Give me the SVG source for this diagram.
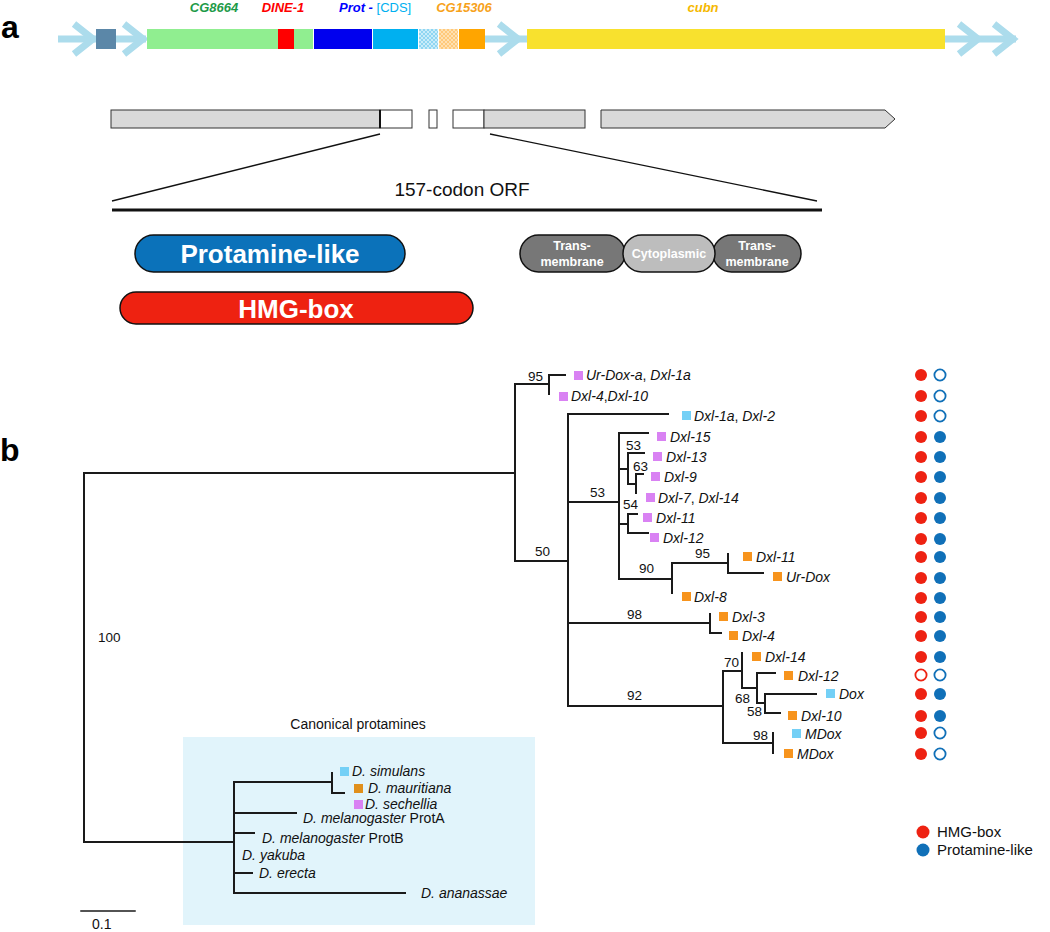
<svg xmlns="http://www.w3.org/2000/svg" width="1050" height="932" viewBox="0 0 1050 932">
<style>
.panel{font-family:"Liberation Sans",Arial,sans-serif;font-weight:bold;font-size:32px;fill:#000}
.glab{font-family:"Liberation Sans",Arial,sans-serif;font-weight:bold;font-style:italic;font-size:13px}
.bb{stroke:#acdcec;stroke-width:7;fill:none}
.chev{stroke:#acdcec;stroke-width:7;fill:none;stroke-linejoin:miter}
.gbox{fill:#d9d9d9;stroke:#333;stroke-width:1}
.wbox{fill:#fff;stroke:#333;stroke-width:1}
.pill{stroke:#111;stroke-width:1.5}
.pt{font-family:"Liberation Sans",Arial,sans-serif;font-weight:bold;fill:#fff;text-anchor:middle}
.tree{stroke:#1a1a1a;stroke-width:2;fill:none;stroke-linecap:square}
.leaf{font-family:"Liberation Sans",Arial,sans-serif;font-style:italic;font-size:14px;fill:#111}
.sup{font-family:"Liberation Sans",Arial,sans-serif;font-size:13.5px;fill:#111}
.up{font-style:normal}
.pu{fill:#d982f3}.cy{fill:#74d0f6}.or{fill:#f7941d}.or2{fill:#e0901c}
.rf{fill:#ee2212}.bf{fill:#1070b8}
.ro{fill:#fff;stroke:#ee2212;stroke-width:1.8}.bo{fill:#fff;stroke:#1070b8;stroke-width:1.8}
.lg{font-family:"Liberation Sans",Arial,sans-serif;font-size:15px;fill:#111}
</style>
<defs>
<pattern id="hb" width="4" height="4" patternUnits="userSpaceOnUse">
<rect width="4" height="4" fill="#8fd6f2"/><path d="M0,0L4,4M4,0L0,4" stroke="#d8f1fb" stroke-width="0.8"/>
</pattern>
<pattern id="ho" width="4" height="4" patternUnits="userSpaceOnUse">
<rect width="4" height="4" fill="#ffc97a"/><path d="M0,0L4,4M4,0L0,4" stroke="#ffe6bf" stroke-width="0.8"/>
</pattern>
</defs>
<rect width="1050" height="932" fill="#fff"/>

<!-- Panel a -->
<text class="panel" x="1" y="38">a</text>
<g id="locus">
<path class="bb" d="M58,39H96M116,39H146M484,39H527M945,39H1016"/>
<polyline class="chev" points="74,24 93,39 74,54"/>
<polyline class="chev" points="124,24 143,39 124,54"/>
<polyline class="chev" points="499,24 518,39 499,54"/>
<polyline class="chev" points="959,24 978,39 959,54"/>
<polyline class="chev" points="994,24 1013,39 994,54"/>
<rect x="96" y="29" width="20" height="20" fill="#5b87a8"/>
<rect x="147" y="29" width="131" height="20" fill="#90ee90"/>
<rect x="278" y="29" width="16" height="20" fill="#ff0000"/>
<rect x="294" y="29" width="19" height="20" fill="#90ee90"/>
<rect x="314" y="29" width="58" height="20" fill="#0000ee"/>
<rect x="373" y="29" width="45" height="20" fill="#00b0f0"/>
<rect x="419" y="29" width="19" height="20" fill="url(#hb)"/>
<rect x="439" y="29" width="19" height="20" fill="url(#ho)"/>
<rect x="459" y="29" width="26" height="20" fill="#ffa500"/>
<rect x="527" y="29" width="418" height="20" fill="#f8e12e"/>
<text class="glab" x="214" y="12" text-anchor="middle" fill="#1e9a48">CG8664</text>
<text class="glab" x="283" y="12" text-anchor="middle" fill="#ff0000">DINE-1</text>
<text class="glab" x="339" y="12" fill="#0000ff">Prot -<tspan font-style="normal" font-weight="normal" fill="#00b0f0"> [CDS]</tspan></text>
<text class="glab" x="464" y="12" text-anchor="middle" fill="#f7a21b">CG15306</text>
<text class="glab" x="703" y="12" text-anchor="middle" fill="#f5b800">cubn</text>
</g>

<g id="gene-model">
<rect class="gbox" x="111" y="110" width="269" height="18"/>
<rect class="wbox" x="380" y="110" width="32" height="18"/>
<line x1="380" y1="110" x2="380" y2="128" stroke="#111" stroke-width="2"/>
<rect class="wbox" x="429" y="110" width="8" height="18"/>
<rect class="wbox" x="453" y="110" width="31" height="18"/>
<rect class="gbox" x="484" y="110" width="101" height="18"/>
<path class="gbox" d="M601,110H885L895,119L885,128H601Z"/>
<path d="M380,134L112,201M490,134L817,201" stroke="#111" stroke-width="1.3" fill="none"/>
<line x1="112" y1="210" x2="822" y2="210" stroke="#111" stroke-width="3"/>
<text x="462" y="196" text-anchor="middle" font-family="Liberation Sans, Arial, sans-serif" font-size="19" fill="#111">157-codon ORF</text>
</g>

<g id="protamine-like">
<rect class="pill" x="135" y="235" width="270" height="37" rx="18.5" fill="#0b72ba"/>
<text class="pt" x="270" y="263" font-size="26">Protamine-like</text>
</g>
<g id="hmg-box">
<rect class="pill" x="120" y="292" width="353" height="32" rx="16" fill="#ee2211"/>
<text class="pt" x="296" y="318" font-size="26">HMG-box</text>
</g>
<g id="tm1">
<rect class="pill" x="520" y="235" width="105" height="37" rx="18.5" fill="#777"/>
<text class="pt" x="572" y="250" font-size="12.5">Trans-</text>
<text class="pt" x="572" y="266" font-size="12.5">membrane</text>
</g>
<g id="tm2">
<rect class="pill" x="713" y="235" width="88" height="37" rx="18.5" fill="#777"/>
<text class="pt" x="757" y="250" font-size="12.5">Trans-</text>
<text class="pt" x="757" y="266" font-size="12.5">membrane</text>
</g>
<g id="cyto">
<rect class="pill" x="623" y="235" width="92" height="37" rx="18.5" fill="#bdbdbd"/>
<text class="pt" x="669" y="258" font-size="12.5">Cytoplasmic</text>
</g>

<!-- Panel b -->
<text class="panel" x="0" y="461">b</text>
<rect x="183" y="737" width="352" height="188" fill="#e1f4fb"/>
<text x="358" y="729" text-anchor="middle" font-family="Liberation Sans, Arial, sans-serif" font-size="14" fill="#111">Canonical protamines</text>

<g id="connectors" class="tree">
<path d="M84,473H515M84,473V842H234"/>
<path d="M515,384V561M515,384H549M549,375V394M549,375H565"/>
<path d="M515,561H568M568,414V706M568,414H668"/>
<path d="M568,502H619M619,433V579M619,433H648"/>
<path d="M619,469H628M628,453V484M628,453H644M628,484H636M636,474V493M636,474H643"/>
<path d="M619,524H628M628,514V533M628,514H637M628,533H648"/>
<path d="M619,579H672M672,563V593M672,563H728M728,554V573M728,573H763"/>
<path d="M568,623H710M710,614V633M710,633H721"/>
<path d="M568,706H723M723,671V743M723,671H742M742,653V688M742,688H757M757,673V703M757,673H775M757,703H765M765,694V713M765,694H816M765,713H780"/>
<path d="M723,743H773M773,733V753"/>
<path d="M234,782V893M234,782H332M332,773V793M332,793H344M234,813H296M234,833H254M234,873H252M234,893H405"/>
<path d="M81,911H135" stroke-width="1.5"/>
</g>

<g id="support" class="sup">
<text x="528" y="381">95</text>
<text x="535" y="556">50</text>
<text x="590" y="497">53</text>
<text x="626" y="450">53</text>
<text x="633" y="471">63</text>
<text x="623" y="509">54</text>
<text x="695" y="558">95</text>
<text x="639" y="573">90</text>
<text x="627" y="619">98</text>
<text x="627" y="700">92</text>
<text x="724" y="667">70</text>
<text x="735" y="703">68</text>
<text x="747" y="716">58</text>
<text x="753" y="740">98</text>
<text x="98" y="642">100</text>
<text x="92" y="929" font-size="14">0.1</text>
</g>

<g id="leaves" class="leaf">
<g id="leaf1"><rect class="pu" x="574" y="371" width="9" height="9"/><text x="586" y="380">Ur-Dox-a<tspan class="up">,</tspan> Dxl-1a</text></g>
<g id="leaf2"><rect class="pu" x="559" y="392" width="9" height="9"/><text x="571" y="401">Dxl-4<tspan class="up">,</tspan>Dxl-10</text></g>
<g id="leaf3"><rect class="cy" x="682" y="411" width="9" height="9"/><text x="694" y="421">Dxl-1a<tspan class="up">,</tspan> Dxl-2</text></g>
<g id="leaf4"><rect class="pu" x="657" y="432" width="9" height="9"/><text x="670" y="442">Dxl-15</text></g>
<g id="leaf5"><rect class="pu" x="653" y="452" width="9" height="9"/><text x="666" y="462">Dxl-13</text></g>
<g id="leaf6"><rect class="pu" x="651" y="472" width="9" height="9"/><text x="664" y="482">Dxl-9</text></g>
<g id="leaf7"><rect class="pu" x="646" y="493" width="9" height="9"/><text x="658" y="503">Dxl-7<tspan class="up">,</tspan> Dxl-14</text></g>
<g id="leaf8"><rect class="pu" x="643" y="513" width="9" height="9"/><text x="656" y="523">Dxl-11</text></g>
<g id="leaf9"><rect class="pu" x="650" y="533" width="9" height="9"/><text x="663" y="543">Dxl-12</text></g>
<g id="leaf10"><rect class="or" x="743" y="552" width="9" height="9"/><text x="756" y="562">Dxl-11</text></g>
<g id="leaf11"><rect class="or" x="773" y="572" width="9" height="9"/><text x="786" y="582">Ur-Dox</text></g>
<g id="leaf12"><rect class="or" x="682" y="592" width="9" height="9"/><text x="694" y="602">Dxl-8</text></g>
<g id="leaf13"><rect class="or" x="719" y="612" width="9" height="9"/><text x="732" y="622">Dxl-3</text></g>
<g id="leaf14"><rect class="or" x="729" y="631" width="9" height="9"/><text x="742" y="641">Dxl-4</text></g>
<g id="leaf15"><rect class="or" x="752" y="652" width="9" height="9"/><text x="765" y="662">Dxl-14</text></g>
<g id="leaf16"><rect class="or" x="784" y="671" width="9" height="9"/><text x="798" y="681">Dxl-12</text></g>
<g id="leaf17"><rect class="cy" x="826" y="689" width="9" height="9"/><text x="839" y="699">Dox</text></g>
<g id="leaf18"><rect class="or" x="788" y="711" width="9" height="9"/><text x="801" y="721">Dxl-10</text></g>
<g id="leaf19"><rect class="cy" x="792" y="729" width="9" height="9"/><text x="805" y="739">MDox</text></g>
<g id="leaf20"><rect class="or" x="784" y="749" width="9" height="9"/><text x="797" y="759">MDox</text></g>
<g id="c-sim"><rect class="cy" x="340" y="767" width="9" height="9"/><text x="352" y="776">D. simulans</text></g>
<g id="c-mau"><rect class="or2" x="354" y="784" width="9" height="9"/><text x="368" y="793">D. mauritiana</text></g>
<g id="c-sec"><rect class="pu" x="354" y="800" width="9" height="9"/><text x="365" y="809">D. sechellia</text></g>
<g id="c-mela"><text x="303" y="823">D. melanogaster<tspan class="up"> ProtA</tspan></text></g>
<g id="c-melb"><text x="262" y="843">D. melanogaster<tspan class="up"> ProtB</tspan></text></g>
<g id="c-yak"><text x="242" y="860">D. yakuba</text></g>
<g id="c-ere"><text x="259" y="878">D. erecta</text></g>
<g id="c-ana"><text x="421" y="898">D. ananassae</text></g>
</g>

<g id="domains">
<circle class="rf" cx="921" cy="375" r="6"/><circle class="bo" cx="940" cy="375" r="5.6"/>
<circle class="rf" cx="921" cy="396" r="6"/><circle class="bo" cx="940" cy="396" r="5.6"/>
<circle class="rf" cx="921" cy="416" r="6"/><circle class="bo" cx="940" cy="416" r="5.6"/>
<circle class="rf" cx="921" cy="437" r="6"/><circle class="bf" cx="940" cy="437" r="6"/>
<circle class="rf" cx="921" cy="457" r="6"/><circle class="bf" cx="940" cy="457" r="6"/>
<circle class="rf" cx="921" cy="477" r="6"/><circle class="bf" cx="940" cy="477" r="6"/>
<circle class="rf" cx="921" cy="498" r="6"/><circle class="bf" cx="940" cy="498" r="6"/>
<circle class="rf" cx="921" cy="518" r="6"/><circle class="bf" cx="940" cy="518" r="6"/>
<circle class="rf" cx="921" cy="539" r="6"/><circle class="bf" cx="940" cy="539" r="6"/>
<circle class="rf" cx="921" cy="557" r="6"/><circle class="bf" cx="940" cy="557" r="6"/>
<circle class="rf" cx="921" cy="578" r="6"/><circle class="bf" cx="940" cy="578" r="6"/>
<circle class="rf" cx="921" cy="598" r="6"/><circle class="bf" cx="940" cy="598" r="6"/>
<circle class="rf" cx="921" cy="617" r="6"/><circle class="bf" cx="940" cy="617" r="6"/>
<circle class="rf" cx="921" cy="636" r="6"/><circle class="bf" cx="940" cy="636" r="6"/>
<circle class="rf" cx="921" cy="657" r="6"/><circle class="bf" cx="940" cy="657" r="6"/>
<circle class="ro" cx="921" cy="675" r="5.6"/><circle class="bo" cx="940" cy="675" r="5.6"/>
<circle class="rf" cx="921" cy="694" r="6"/><circle class="bf" cx="940" cy="694" r="6"/>
<circle class="rf" cx="921" cy="716" r="6"/><circle class="bf" cx="940" cy="716" r="6"/>
<circle class="rf" cx="921" cy="733" r="6"/><circle class="bo" cx="940" cy="733" r="5.6"/>
<circle class="rf" cx="921" cy="754" r="6"/><circle class="bo" cx="940" cy="754" r="5.6"/>
</g>

<g id="legend">
<circle class="rf" cx="923" cy="832" r="6.5"/>
<text class="lg" x="937" y="837">HMG-box</text>
<circle class="bf" cx="923" cy="850" r="6.5"/>
<text class="lg" x="937" y="855">Protamine-like</text>
</g>
</svg>
